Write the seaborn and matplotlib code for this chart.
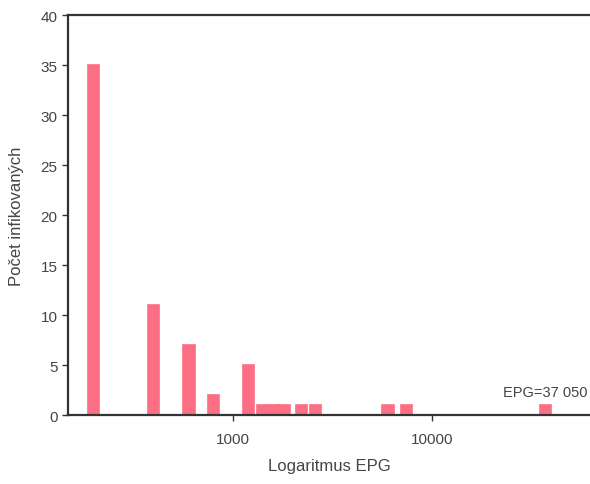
import matplotlib
matplotlib.use("Agg")
import matplotlib.pyplot as plt
import matplotlib.ticker as mticker
import seaborn as sns
import pandas as pd

# EPG values (eggs per gram) and number of infected animals
epg = [200, 400, 600, 800, 1200, 1400, 1600, 1800, 2200, 2600, 6000, 7400, 37050]
pocet = [35, 11, 7, 2, 5, 1, 1, 1, 1, 1, 1, 1, 1]
x_ticks = [1000, 10000]
x_tick_labels = ["1000", "10000"]

df = pd.DataFrame({"epg": epg, "pocet": pocet})

sns.set_style("white")
plt.rcParams["font.family"] = ["Liberation Sans", "DejaVu Sans"]

fig = plt.figure(figsize=(5.9, 4.85), dpi=100)
ax = fig.add_axes([0.115, 0.142, 0.885, 0.825])
ax.set_xscale("log")

# bars drawn with a same-colour edge so they look a bit fuller, like the scan
sns.barplot(data=df, x="epg", y="pocet", native_scale=True, width=1.1,
            color="#FB6E84", saturation=1, ax=ax,
            edgecolor="#FB6E84", linewidth=1.2)

ax.set_xlim(148, 62000)
ax.set_ylim(0, 40)
ax.set_yticks(range(0, 41, 5))
ax.xaxis.set_major_locator(mticker.FixedLocator(x_ticks))
ax.xaxis.set_major_formatter(mticker.FixedFormatter(x_tick_labels))
ax.xaxis.set_minor_locator(mticker.NullLocator())

ax.text(37050, 1.6, "EPG=37 050", ha="center", va="bottom",
        fontsize=10.5, color="#444444")

ax.set_xlabel("Logaritmus EPG", fontsize=12, color="#444444", labelpad=9)
ax.set_ylabel("Počet infikovaných", fontsize=12, color="#444444", labelpad=12)

for side in ["left", "top", "bottom"]:
    ax.spines[side].set_color("#333333")
    ax.spines[side].set_linewidth(1.6)
    ax.spines[side].set_zorder(5)
ax.spines["right"].set_visible(False)

ax.tick_params(axis="both", direction="out", length=4, width=1,
               color="#333333", labelcolor="#444444", labelsize=11,
               left=True, bottom=True)
ax.tick_params(axis="x", pad=8)

fig.savefig("out.png", dpi=100)
